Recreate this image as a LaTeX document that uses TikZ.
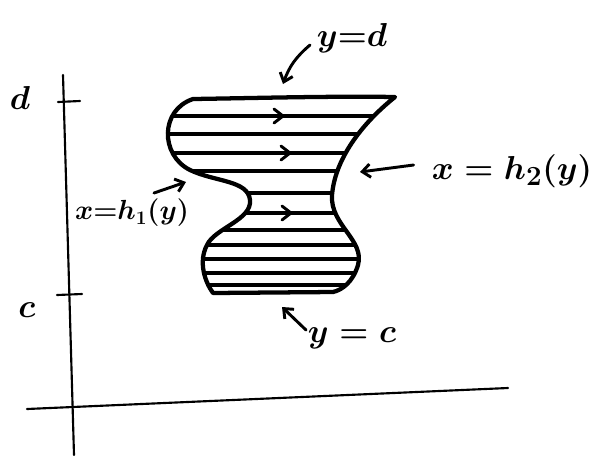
\documentclass[tikz,border=0pt]{standalone}
\usetikzlibrary{arrows.meta}
\begin{document}
\begin{tikzpicture}[x=0.75pt,y=-0.75pt,
  axis/.style={line width=1.6pt,line cap=round},
  bound/.style={line width=3.2pt,line join=round,line cap=round},
  hatch/.style={line width=2.3pt,line cap=round},
  lbl/.style={inner sep=0pt,font=\fontsize{26}{28}\selectfont\boldmath},
  pointer/.style={line width=2.2pt,line cap=round,-{Straight Barb[length=6pt,width=10pt,line width=2.2pt]}},
  chev/.style={line width=2.2pt,line cap=round,line join=miter}]
\useasboundingbox (0,0) rectangle (600,455);
% axes
\coordinate (vtop) at (63,75);
\coordinate (vbot) at (74,455);
\coordinate (hl) at (27,409);
\coordinate (hr) at (508,388);
\draw[axis] (vtop) -- (vbot);
\draw[axis] (hl) -- (hr);
% ticks
\coordinate (dtl) at (58,102); \coordinate (dtr) at (80,101);
\coordinate (ctl) at (57,295); \coordinate (ctr) at (82,294);
\draw[axis] (dtl) -- (dtr);
\draw[axis] (ctl) -- (ctr);
\node[lbl] (dlab) at (20,98) {$d$};
\node[lbl] (clab) at (27,310) {$c$};
% region
\def\regionpath{(193,99) .. controls (260,98) and (330,96) .. (395,97)
  .. controls (360,125) and (335,160) .. (332,195)
  .. controls (330,225) and (365,240) .. (358,265)
  .. controls (353,282) and (342,290) .. (333,292)
  -- (213,293)
  .. controls (205,282) and (198,262) .. (207,245)
  .. controls (215,228) and (252,220) .. (250,200)
  .. controls (248,180) and (215,182) .. (190,170)
  .. controls (160,155) and (160,110) .. (193,99) -- cycle}
\begin{scope}
  \clip \regionpath;
  \foreach \yy in {116,134,153,171,193,213,230,245,259,273,285}
    \draw[hatch] (160,\yy) -- (400,\yy);
\end{scope}
\draw[bound] \regionpath;
% flow chevrons on hatch lines
\foreach \cx/\cy in {283/116,290/153,291/213}
  \draw[chev] (\cx-9,\cy-7) -- (\cx,\cy) -- (\cx-9,\cy+7);
% labels with pointers
\node[lbl] (ydlab) at (352,38) {$y{=}d$};
\coordinate (ydend) at (283,84);
\draw[pointer] (310,45) to[bend right=15] (ydend);
\node[lbl,font=\fontsize{30}{32}\selectfont\boldmath] (h2lab) at (512,171) {$x = h_2(y)$};
\coordinate (h2end) at (360,172);
\draw[pointer] (h2lab.west) ++(-18,-6) -- (h2end);
\node[lbl,font=\fontsize{21}{24}\selectfont\boldmath] (h1lab) at (132,213) {$x{=}h_1(y)$};
\coordinate (h1end) at (186,182);
\draw[pointer] (154,193) -- (h1end);
\node[lbl] (yclab) at (352,338) {$y = c$};
\coordinate (ycend) at (282,307);
\draw[pointer] (306,330) -- (ycend);
\end{tikzpicture}
\end{document}
